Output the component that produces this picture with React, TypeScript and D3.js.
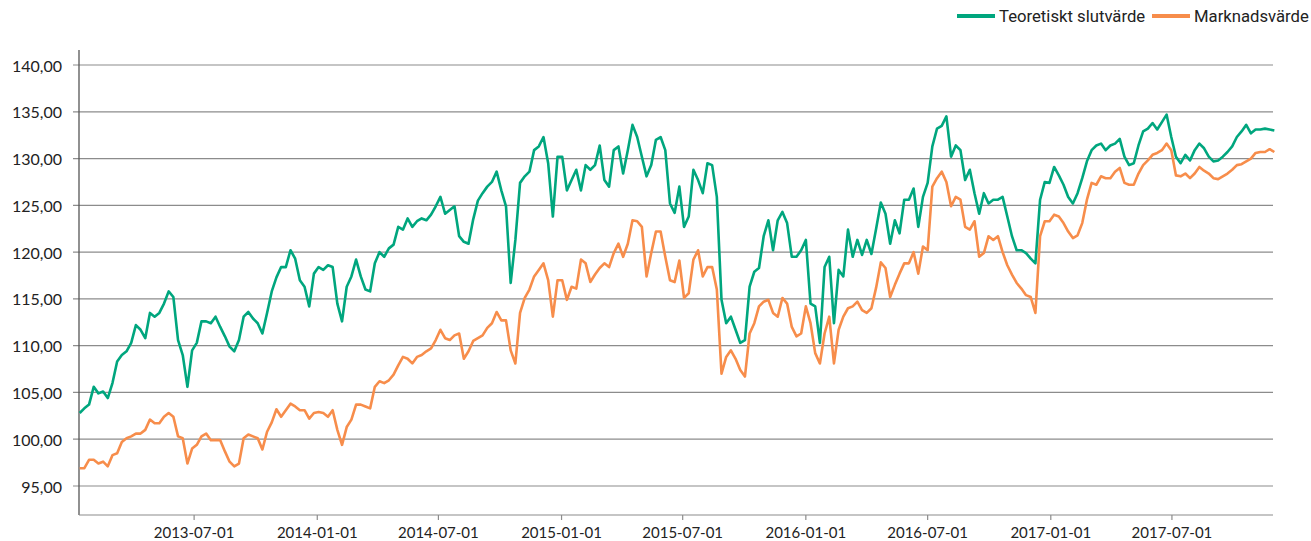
import * as d3 from "d3";

// weekly readings, first week 2013-01-11
const firstWeek = new Date(2013, 0, 11);

const teoretisktSlutvarde = [
  102.8, 103.3, 103.7, 105.6, 104.9, 105.1, 104.4, 106.0, 108.3, 109.0,
  109.4, 110.3, 112.2, 111.7, 110.8, 113.5, 113.1, 113.5, 114.5, 115.8,
  115.2, 110.6, 109.0, 105.6, 109.5, 110.3, 112.6, 112.6, 112.4, 113.1,
  112.0, 111.0, 109.9, 109.4, 110.6, 113.1, 113.6, 112.9, 112.4, 111.3,
  113.5, 115.8, 117.3, 118.4, 118.4, 120.2, 119.3, 117.0, 116.3, 114.2,
  117.7, 118.4, 118.1, 118.6, 118.4, 114.5, 112.6, 116.3, 117.4, 119.2,
  117.4, 116.0, 115.8, 118.8, 120.0, 119.5, 120.4, 120.8, 122.7, 122.4,
  123.6, 122.7, 123.3, 123.6, 123.4, 124.0, 124.9, 125.9, 124.1, 124.5,
  124.9, 121.7, 121.1, 120.9, 123.5, 125.5, 126.3, 127.0, 127.5, 128.6,
  126.6, 124.9, 116.7, 121.3, 127.4, 128.1, 128.6, 130.9, 131.3, 132.3,
  129.5, 123.8, 130.2, 130.2, 126.6, 127.7, 128.8, 126.6, 129.3, 128.8,
  129.3, 131.4, 127.7, 127.0, 130.9, 131.3, 128.4, 130.9, 133.6, 132.3,
  130.2, 128.1, 129.3, 132.0, 132.3, 130.9, 125.2, 124.2, 127.0, 122.7,
  123.8, 128.8, 127.7, 126.3, 129.5, 129.3, 125.9, 114.9, 112.4, 113.1,
  111.7, 110.3, 110.6, 116.3, 117.9, 118.3, 121.7, 123.4, 120.2, 123.4,
  124.3, 123.1, 119.5, 119.5, 120.2, 121.3, 114.5, 114.2, 110.3, 118.4,
  119.5, 112.4, 118.1, 117.4, 122.4, 119.5, 121.3, 119.7, 121.3, 119.8,
  122.5, 125.3, 124.1, 120.9, 123.4, 122.0, 125.6, 125.6, 126.8, 122.7,
  125.9, 127.4, 131.3, 133.2, 133.5, 134.5, 130.2, 131.4, 130.9, 127.7,
  128.8, 126.3, 124.1, 126.3, 125.2, 125.6, 125.6, 125.9, 123.8, 121.7,
  120.2, 120.2, 119.9, 119.3, 118.8, 125.6, 127.5, 127.4, 129.1, 128.2,
  127.2, 125.9, 125.2, 126.3, 127.9, 129.7, 130.9, 131.4, 131.6, 130.9,
  131.4, 131.6, 132.1, 130.2, 129.3, 129.5, 131.4, 132.9, 133.2, 133.8,
  133.1, 133.9, 134.7, 132.3, 130.2, 129.5, 130.4, 129.8, 130.9, 131.6,
  131.1, 130.2, 129.7, 129.8, 130.2, 130.7, 131.3, 132.3, 132.9, 133.6,
  132.7, 133.1, 133.1, 133.2, 133.1, 133.0,
];

const marknadsvarde = [
  96.9, 96.9, 97.8, 97.8, 97.4, 97.6, 97.1, 98.3, 98.5, 99.7,
  100.1, 100.3, 100.6, 100.6, 101.0, 102.1, 101.7, 101.7, 102.4, 102.8,
  102.4, 100.3, 100.1, 97.4, 99.0, 99.4, 100.3, 100.6, 99.9, 99.9,
  99.9, 98.7, 97.6, 97.1, 97.4, 100.1, 100.5, 100.3, 100.1, 98.9,
  100.8, 101.8, 103.2, 102.4, 103.1, 103.8, 103.5, 103.1, 103.1, 102.2,
  102.8, 102.9, 102.8, 102.4, 103.1, 101.0, 99.4, 101.3, 102.1, 103.7,
  103.7, 103.5, 103.3, 105.6, 106.2, 106.0, 106.3, 106.9, 107.9, 108.8,
  108.6, 108.1, 108.8, 109.0, 109.4, 109.7, 110.6, 111.7, 110.8, 110.6,
  111.1, 111.3, 108.6, 109.4, 110.5, 110.8, 111.1, 111.9, 112.4, 113.6,
  112.7, 112.7, 109.5, 108.1, 113.5, 115.1, 116.0, 117.4, 118.1, 118.8,
  117.0, 113.1, 117.0, 117.0, 114.9, 116.3, 116.1, 119.2, 118.8, 116.8,
  117.6, 118.3, 118.8, 118.4, 119.9, 120.9, 119.5, 120.9, 123.4, 123.3,
  122.7, 117.4, 119.9, 122.2, 122.2, 119.5, 117.0, 116.8, 119.1, 115.1,
  115.6, 119.2, 120.2, 117.4, 118.4, 118.4, 116.0, 107.0, 108.8, 109.5,
  108.6, 107.4, 106.7, 111.3, 112.4, 114.2, 114.7, 114.9, 113.5, 113.1,
  115.1, 114.5, 112.0, 111.0, 111.3, 114.2, 112.4, 109.2, 108.1, 111.3,
  113.1, 108.1, 111.7, 113.1, 114.0, 114.2, 114.7, 113.8, 113.5, 114.0,
  116.2, 118.9, 118.3, 115.2, 116.5, 117.7, 118.8, 118.8, 120.0, 117.7,
  120.6, 120.2, 127.0, 127.9, 128.6, 127.5, 124.9, 125.9, 125.6, 122.7,
  122.4, 123.3, 119.5, 119.9, 121.7, 121.3, 121.7, 120.0, 118.6, 117.6,
  116.7, 116.1, 115.4, 115.2, 113.5, 121.7, 123.3, 123.3, 124.0, 123.8,
  123.1, 122.2, 121.5, 121.8, 123.1, 125.6, 127.4, 127.2, 128.1, 127.9,
  127.9, 128.6, 129.0, 127.4, 127.2, 127.2, 128.4, 129.3, 129.8, 130.4,
  130.6, 130.9, 131.6, 130.9, 128.2, 128.1, 128.4, 127.9, 128.4, 129.1,
  128.7, 128.4, 127.9, 127.8, 128.1, 128.4, 128.8, 129.3, 129.4, 129.7,
  130.0, 130.6, 130.7, 130.7, 131.0, 130.7,
];

const yTicks = [95, 100, 105, 110, 115, 120, 125, 130, 135, 140];
const xTickLabels = [
  "2013-07-01", "2014-01-01", "2014-07-01", "2015-01-01", "2015-07-01",
  "2016-01-01", "2016-07-01", "2017-01-01", "2017-07-01",
];

const seriesNames = ["Teoretiskt slutvärde", "Marknadsvärde"];
const seriesColors = ["#00a67e", "#f78d4b"];

const W = 1311;
const H = 541;
const left = 79;
const right = 1273;
const axisTop = 50;
const axisBottom = 515;
const font = "Lato, 'Open Sans', sans-serif";

const parseDate = d3.timeParse("%Y-%m-%d");

export default function App() {
  const dates = teoretisktSlutvarde.map((_, i) => d3.timeDay.offset(firstWeek, i * 7));

  const x = d3
    .scaleTime()
    .domain([new Date(2013, 0, 10), new Date(2017, 10, 29)])
    .range([left, right]);
  const y = d3.scaleLinear().domain([95, 140]).range([486, 65]);

  const line = d3
    .line<number>()
    .x((_, i) => x(dates[i]))
    .y((d) => y(d));

  const fmt = (v: number) => v.toFixed(2).replace(".", ",");

  return (
    <div style={{ position: "absolute", left: 0, top: 0 }}>
      <svg width={W} height={H} style={{ display: "block", background: "#fff" }}>
        {/* grid + y ticks */}
        {yTicks.map((t) => (
          <g key={t}>
            <line x1={left - 6} x2={right} y1={y(t)} y2={y(t)} stroke="#8c8c8c" strokeWidth={1.2} />
            <text
              x={62}
              y={y(t)}
              textAnchor="end"
              dominantBaseline="central"
              fontFamily={font}
              fontSize={16}
              fill="#222"
            >
              {fmt(t)}
            </text>
          </g>
        ))}

        {/* axes */}
        <line x1={left} x2={left} y1={axisTop} y2={axisBottom} stroke="#555" strokeWidth={1.3} />
        <line x1={left} x2={right} y1={axisBottom} y2={axisBottom} stroke="#8c8c8c" strokeWidth={1.2} />
        {xTickLabels.map((lbl) => {
          const px = x(parseDate(lbl) as Date);
          return (
            <g key={lbl}>
              <line x1={px} x2={px} y1={axisBottom} y2={axisBottom + 5} stroke="#8c8c8c" strokeWidth={1.2} />
              <text
                x={px}
                y={538}
                textAnchor="middle"
                fontFamily={font}
                fontSize={15}
                fill="#222"
              >
                {lbl}
              </text>
            </g>
          );
        })}

        {/* lines */}
        <path
          d={line(marknadsvarde) || ""}
          fill="none"
          stroke={seriesColors[1]}
          strokeWidth={2.6}
          strokeLinejoin="round"
        />
        <path
          d={line(teoretisktSlutvarde) || ""}
          fill="none"
          stroke={seriesColors[0]}
          strokeWidth={2.6}
          strokeLinejoin="round"
        />

        {/* legend */}
        <g fontFamily="Roboto, sans-serif" fontSize={16.7} fill="#222">
          <line x1={957} x2={995} y1={16} y2={16} stroke={seriesColors[0]} strokeWidth={4} />
          <text x={999} y={22}>{seriesNames[0]}</text>
          <line x1={1152} x2={1190} y1={16} y2={16} stroke={seriesColors[1]} strokeWidth={4} />
          <text x={1194} y={22}>{seriesNames[1]}</text>
        </g>
      </svg>
    </div>
  );
}
